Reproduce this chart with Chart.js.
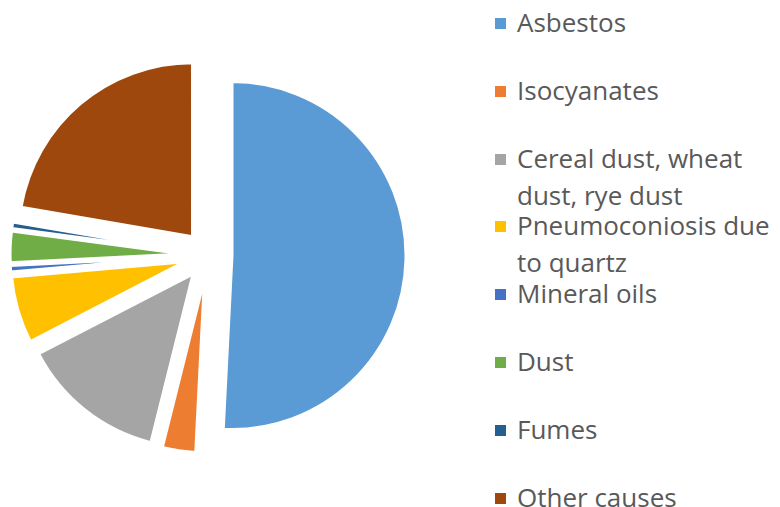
<!DOCTYPE html>
<html>
<head>
<meta charset="utf-8">
<script src="https://cdn.jsdelivr.net/npm/chart.js@4"></script>
<style>
  html, body { margin: 0; padding: 0; background: #fff; overflow: hidden; }
  #wrap { position: relative; width: 780px; height: 507px; }
  #pieBox { position: absolute; left: 0; top: 0; width: 416px; height: 507px; }
  #legend { position: absolute; left: 495px; top: 4px; margin: 0; padding: 0; list-style: none;
    font-family: "Open Sans", sans-serif; font-size: 26px; line-height: 37px; color: #595959; }
  #legend li { position: relative; height: 67.8px; padding-left: 22px; white-space: nowrap; }
  #legend li span.box { position: absolute; left: 0; top: 14px; width: 11px; height: 11px; }
</style>
</head>
<body>
<div id="wrap">
  <div id="pieBox"><canvas id="causesChart"></canvas></div>
  <ul id="legend"></ul>
</div>
<script>
const categories = [
  'Asbestos',
  'Isocyanates',
  ['Cereal dust, wheat', 'dust, rye dust'],
  ['Pneumoconiosis due', 'to quartz'],
  'Mineral oils',
  'Dust',
  'Fumes',
  'Other causes'
];
// share of cases (%)
const shares = [50.8, 3.1, 13.5, 6.2, 0.6, 2.9, 0.6, 22.3];
const colors = ['#5B9BD5', '#ED7D31', '#A5A5A5', '#FFC000', '#4472C4', '#70AD47', '#255E91', '#9E480E'];
const explode = 24;

// pull every slice out along its middle angle (Chart's own offset also grows the radius)
const explodePlugin = {
  id: 'explode',
  afterDatasetsUpdate(chart) {
    chart.getDatasetMeta(0).data.forEach(arc => {
      const mid = (arc.startAngle + arc.endAngle) / 2;
      arc.x += Math.cos(mid) * explode;
      arc.y += Math.sin(mid) * explode;
    });
  }
};

// html legend built from the chart's own items
const htmlLegend = {
  id: 'htmlLegend',
  afterUpdate(chart) {
    const ul = document.getElementById('legend');
    ul.innerHTML = '';
    const ds = chart.data.datasets[0];
    chart.data.labels.forEach((label, i) => {
      const li = document.createElement('li');
      const box = document.createElement('span');
      box.className = 'box';
      box.style.background = ds.backgroundColor[i];
      li.appendChild(box);
      const lines = Array.isArray(label) ? label : [label];
      lines.forEach((t, j) => {
        if (j) li.appendChild(document.createElement('br'));
        li.appendChild(document.createTextNode(t));
      });
      ul.appendChild(li);
    });
  }
};

try {
  const ctx = document.getElementById('causesChart');
  new Chart(ctx, {
    type: 'pie',
    data: {
      labels: categories,
      datasets: [{
        data: shares,
        backgroundColor: colors,
        borderColor: '#ffffff',
        borderWidth: 3,
        hoverOffset: 0
      }]
    },
    options: {
      responsive: true,
      maintainAspectRatio: false,
      animation: false,
      radius: 174,
      layout: { padding: { top: 3 } },
      plugins: {
        legend: { display: false },
        tooltip: { enabled: false }
      }
    },
    plugins: [explodePlugin, htmlLegend]
  });
} catch (err) {
  console.error('Error drawing chart:', err);
}
</script>
</body>
</html>
